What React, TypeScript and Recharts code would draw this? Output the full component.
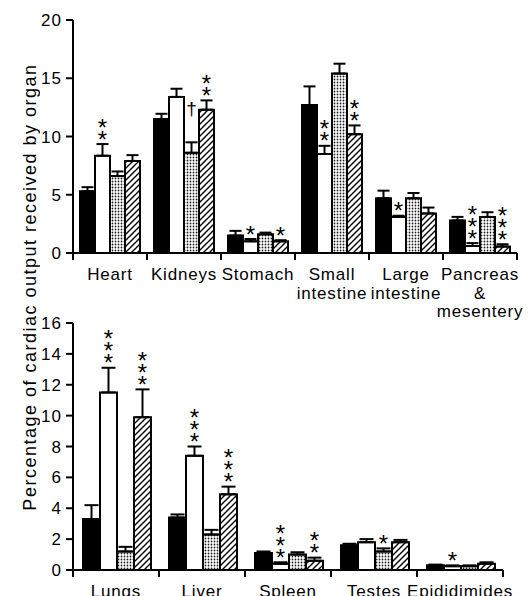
import React from "react";
import { Bar, BarChart, ErrorBar, LabelList, XAxis, YAxis } from "recharts";

// upper panel
const topLabels = [["Heart"], ["Kidneys"], ["Stomach"], ["Small", "intestine"], ["Large", "intestine"], ["Pancreas", "&", "mesentery"]];
const topBlack = [5.3, 11.5, 1.5, 12.7, 4.7, 2.8];
const topBlackErr = [0.35, 0.45, 0.4, 1.6, 0.65, 0.3];
const topWhite = [8.35, 13.4, 1.0, 8.5, 3.1, 0.6];
const topWhiteErr = [1.0, 0.7, 0.2, 0.7, 0.1, 0.25];
const topDotted = [6.6, 8.6, 1.6, 15.4, 4.7, 3.1];
const topDottedErr = [0.4, 0.9, 0.15, 0.85, 0.45, 0.4];
const topHatched = [7.9, 12.3, 1.0, 10.2, 3.4, 0.55];
const topHatchedErr = [0.5, 0.8, 0.1, 0.75, 0.5, 0.2];
const topWhiteMarks = ["**", "", "*", "**", "*", "***"];
const topDottedMarks = ["", "†", "", "", "", ""];
const topHatchedMarks = ["", "**", "*", "**", "", "***"];
const topTicks = [0, 5, 10, 15, 20];

// lower panel
const botLabels = [["Lungs"], ["Liver"], ["Spleen"], ["Testes"], ["Epididimides"]];
const botBlack = [3.3, 3.4, 1.1, 1.6, 0.3];
const botBlackErr = [0.9, 0.2, 0.1, 0.1, 0.05];
const botWhite = [11.5, 7.4, 0.4, 1.8, 0.25];
const botWhiteErr = [1.6, 0.6, 0.1, 0.2, 0.05];
const botDotted = [1.2, 2.3, 1.0, 1.2, 0.25];
const botDottedErr = [0.3, 0.3, 0.15, 0.2, 0.05];
const botHatched = [9.9, 4.9, 0.6, 1.8, 0.4];
const botHatchedErr = [1.8, 0.5, 0.2, 0.15, 0.1];
const botWhiteMarks = ["***", "***", "***", "", "*"];
const botDottedMarks = ["", "", "", "*", ""];
const botHatchedMarks = ["***", "***", "**", "", ""];
const botTicks = [0, 2, 4, 6, 8, 10, 12, 14, 16];

const FONT = "'Liberation Sans', Arial, Helvetica, sans-serif";
const KEYS = ["black", "white", "dotted", "hatched"];

function rows(labels: string[][], vals: number[][], errs: number[][], marks: string[][]) {
  return labels.map((l, i) => {
    const r: any = { organ: l.join(" "), lines: l };
    KEYS.forEach((k, j) => {
      r[k] = vals[j][i];
      r[k + "Err"] = errs[j][i];
      r[k + "Mark"] = marks[j][i];
    });
    return r;
  });
}

const topData = rows(
  topLabels,
  [topBlack, topWhite, topDotted, topHatched],
  [topBlackErr, topWhiteErr, topDottedErr, topHatchedErr],
  [[], topWhiteMarks, topDottedMarks, topHatchedMarks]
);
const botData = rows(
  botLabels,
  [botBlack, botWhite, botDotted, botHatched],
  [botBlackErr, botWhiteErr, botDottedErr, botHatchedErr],
  [[], botWhiteMarks, botDottedMarks, botHatchedMarks]
);

// significance marks stacked above the error bar cap
const markContent = (data: any[], key: string) => (p: any) => {
  const row = data[p.index];
  const mark = row?.[key + "Mark"];
  if (!mark) return null;
  const vb = p.viewBox ?? p;
  const h = Math.abs(vb.height);
  const top = Math.min(vb.y, vb.y + vb.height);
  const capY = top - (h / row[key]) * row[key + "Err"];
  const cx = vb.x + vb.width / 2;
  if (mark === "†") {
    return (
      <text x={cx} y={capY - 27} textAnchor="middle" fontSize={19} fontFamily={FONT} fill="#000">
        †
      </text>
    );
  }
  const stars = mark.split("");
  return (
    <text x={cx} y={capY + 3.5} textAnchor="middle" fontSize={24} fontFamily={FONT} fill="#000">
      {stars.map((s: string, i: number) => (
        <tspan key={i} x={cx} dy={i === 0 ? 0 : -12}>
          {s}
        </tspan>
      ))}
    </text>
  );
};

function OrganTick(props: any) {
  const { x, y, index, payload, band, count, data } = props;
  const lines: string[] = data[index]?.lines ?? [payload.value];
  return (
    <g>
      <line x1={x - band / 2} x2={x - band / 2} y1={y} y2={y + 7} stroke="#000" strokeWidth={2} />
      {index === count - 1 && <line x1={x + band / 2} x2={x + band / 2} y1={y} y2={y + 7} stroke="#000" strokeWidth={2} />}
      <text x={x} y={y + 27} textAnchor="middle" fontSize={17} fontFamily={FONT} letterSpacing={0.8} fill="#000">
        {lines.map((t, i) => (
          <tspan key={i} x={x} dy={i === 0 ? 0 : 18.5}>
            {t}
          </tspan>
        ))}
      </text>
    </g>
  );
}

function Patterns({ id }: { id: string }) {
  return (
    <defs>
      <pattern id={`dots-${id}`} width={3} height={3} patternUnits="userSpaceOnUse">
        <rect width={3} height={3} fill="#fff" />
        <circle cx={1.5} cy={1.5} r={0.9} fill="#222" />
      </pattern>
      <pattern id={`hatch-${id}`} width={6} height={6} patternUnits="userSpaceOnUse">
        <rect width={6} height={6} fill="#fff" />
        <path d="M0,6 L6,0 M-1.5,1.5 L1.5,-1.5 M4.5,7.5 L7.5,4.5" stroke="#000" strokeWidth={1.4} />
      </pattern>
    </defs>
  );
}

function Panel(props: {
  id: string;
  data: any[];
  width: number;
  height: number;
  margin: any;
  xHeight: number;
  ticks: number[];
  max: number;
  gap: number;
  cap: number;
}) {
  const { id, data, width, height, margin, xHeight, ticks, max, gap, cap } = props;
  const band = (width - margin.right - 73) / data.length;
  const fills: Record<string, string> = {
    black: "#000",
    white: "#fff",
    dotted: `url(#dots-${id})`,
    hatched: `url(#hatch-${id})`,
  };
  return (
    <BarChart width={width} height={height} data={data} margin={margin} barGap={0} barCategoryGap={gap}>
      <Patterns id={id} />
      <XAxis
        dataKey="organ"
        height={xHeight}
        interval={0}
        tickSize={0}
        tickMargin={0}
        tickLine={false}
        axisLine={{ stroke: "#000", strokeWidth: 2 }}
        tick={(p: any) => <OrganTick {...p} band={band} count={data.length} data={data} />}
      />
      <YAxis
        width={73}
        domain={[0, max]}
        ticks={ticks}
        interval={0}
        tickSize={7}
        tickMargin={4}
        axisLine={{ stroke: "#000", strokeWidth: 2 }}
        tickLine={{ stroke: "#000", strokeWidth: 2 }}
        tick={{ fill: "#000", fontSize: 17, fontFamily: FONT, letterSpacing: 1 }}
      />
      {KEYS.map((k) => (
        <Bar key={k} dataKey={k} fill={fills[k]} stroke="#000" strokeWidth={2} isAnimationActive={false}>
          <ErrorBar
            dataKey={(d: any) => [0, d[k + "Err"]]}
            direction="y"
            width={cap}
            stroke="#000"
            strokeWidth={2}
            isAnimationActive={false}
          />
          <LabelList dataKey={k} content={markContent(data, k)} />
        </Bar>
      ))}
    </BarChart>
  );
}

export default function App() {
  return (
    <div style={{ position: "absolute", left: 0, top: 0, width: 529, height: 596, background: "#fff", overflow: "hidden" }}>
      <div style={{ position: "absolute", left: 0, top: 0 }}>
        <Panel
          id="top"
          data={topData}
          width={529}
          height={325}
          margin={{ top: 20, right: 12, left: 0, bottom: 0 }}
          xHeight={72}
          ticks={topTicks}
          max={20}
          gap={7}
          cap={6}
        />
      </div>
      <div style={{ position: "absolute", left: 0, top: 300 }}>
        <Panel
          id="bot"
          data={botData}
          width={529}
          height={296}
          margin={{ top: 23, right: 26, left: 0, bottom: 0 }}
          xHeight={26}
          ticks={botTicks}
          max={16}
          gap={10}
          cap={7}
        />
      </div>
      <svg width={40} height={596} style={{ position: "absolute", left: 0, top: 0 }}>
        <text
          transform="translate(36, 287) rotate(-90)"
          textAnchor="middle"
          fontSize={18}
          fontFamily={FONT}
          letterSpacing={1.5}
          fill="#000"
        >
          Percentage of cardiac output received by organ
        </text>
      </svg>
    </div>
  );
}
